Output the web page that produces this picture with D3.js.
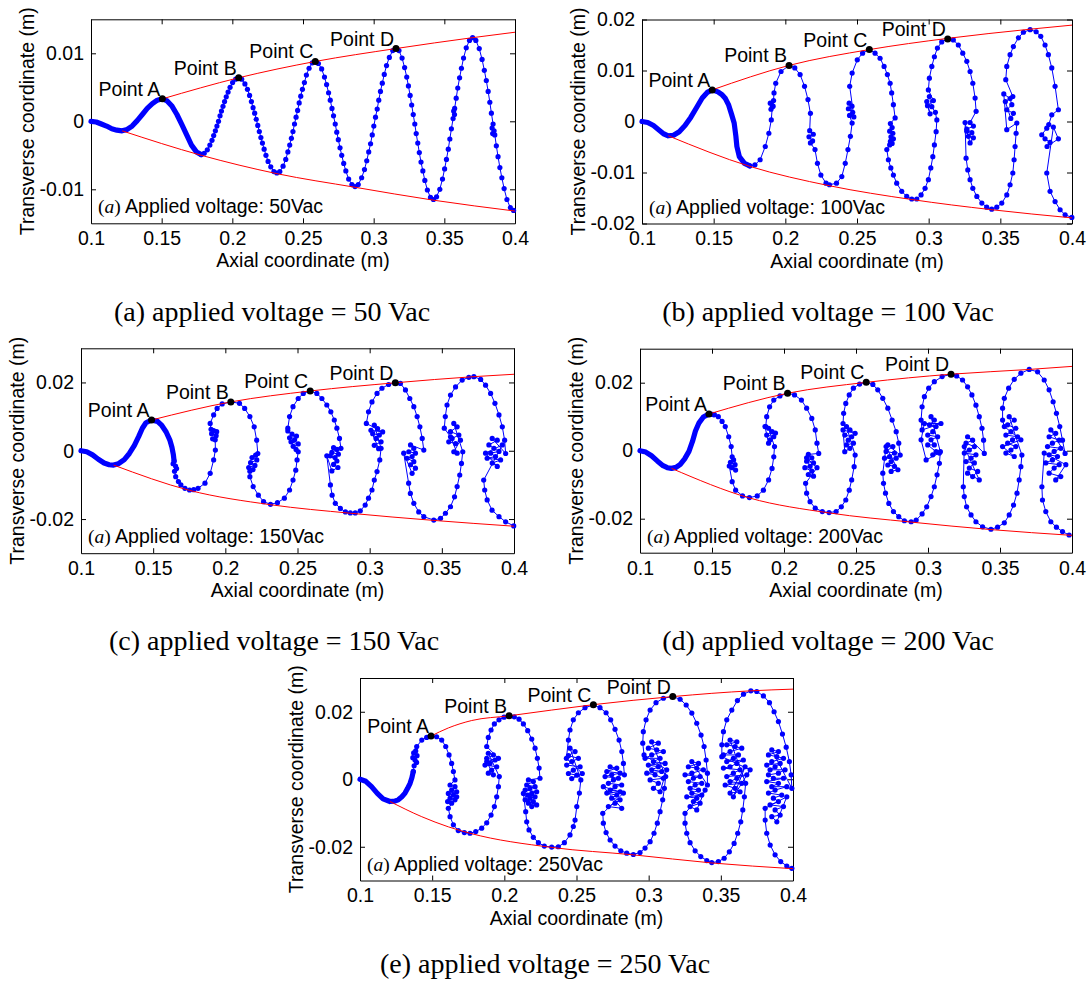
<!DOCTYPE html>
<html>
<head>
<meta charset="utf-8">
<script src="https://cdn.jsdelivr.net/npm/d3@7"></script>
<style>
  body { margin: 0; background: #fff; }
  svg text { font-family: "Liberation Sans", Arial, sans-serif; }
</style>
</head>
<body>
<svg id="fig" width="1089" height="983"></svg>
<script>
// axial coordinate ticks shared by every panel
const xTicks = [0.1, 0.15, 0.2, 0.25, 0.3, 0.35, 0.4]
const yTicksA = [-0.01, 0, 0.01]
const yTicksB = [-0.02, -0.01, 0, 0.01, 0.02]
const yTicksC = [-0.02, 0, 0.02]

const voltages = ["50", "100", "150", "200", "250"]
const letters = ["a", "b", "c", "d", "e"]
const pointNames = ["Point A", "Point B", "Point C", "Point D"]

// ---- (a) 50 Vac ----
const denseA = [[0.1000,0.0000],[0.1037,-0.0001],[0.1073,-0.0004],[0.1110,-0.0007],[0.1147,-0.0011],[0.1183,-0.0013],[0.1220,-0.0014],
  [0.1256,-0.0012],[0.1291,-0.0007],[0.1327,0.0001],[0.1363,0.0010],[0.1398,0.0019],[0.1434,0.0026],[0.1469,0.0031],[0.1505,0.0033],
  [0.1539,0.0030],[0.1574,0.0022],[0.1608,0.0010],[0.1643,-0.0005],[0.1677,-0.0020],[0.1711,-0.0035],[0.1746,-0.0045],[0.1780,-0.0049]]
const pathA = [[0.1780,-0.0049],
  [0.1801,-0.0047],[0.1823,-0.0042],[0.1841,-0.0035],[0.1856,-0.0028],[0.1868,-0.0021],[0.1880,-0.0014],[0.1891,-0.0007],[0.1902,0.0000],[0.1913,0.0008],[0.1923,0.0015],[0.1934,0.0022],[0.1945,0.0029],[0.1957,0.0036],[0.1970,0.0043],[0.1984,0.0050],[0.2002,0.0057],[0.2024,0.0062],[0.2045,0.0064],
  [0.2066,0.0062],[0.2089,0.0055],[0.2107,0.0047],[0.2122,0.0038],[0.2135,0.0029],[0.2147,0.0020],[0.2158,0.0012],[0.2169,0.0003],[0.2180,-0.0006],[0.2191,-0.0015],[0.2202,-0.0024],[0.2213,-0.0032],[0.2225,-0.0041],[0.2238,-0.0050],[0.2253,-0.0059],[0.2272,-0.0067],[0.2294,-0.0074],[0.2315,-0.0076],
  [0.2336,-0.0074],[0.2359,-0.0066],[0.2378,-0.0056],[0.2393,-0.0045],[0.2406,-0.0035],[0.2418,-0.0025],[0.2429,-0.0015],[0.2440,-0.0004],[0.2451,0.0006],[0.2462,0.0016],[0.2473,0.0027],[0.2484,0.0037],[0.2496,0.0047],[0.2510,0.0057],[0.2524,0.0068],[0.2543,0.0078],[0.2566,0.0086],[0.2587,0.0088],
  [0.2609,0.0085],[0.2632,0.0077],[0.2652,0.0065],[0.2667,0.0054],[0.2681,0.0042],[0.2693,0.0031],[0.2705,0.0019],[0.2716,0.0008],[0.2728,-0.0004],[0.2739,-0.0016],[0.2750,-0.0027],[0.2762,-0.0039],[0.2774,-0.0050],[0.2788,-0.0062],[0.2803,-0.0073],[0.2823,-0.0085],[0.2846,-0.0093],[0.2868,-0.0096],
  [0.2891,-0.0093],[0.2915,-0.0083],[0.2935,-0.0071],[0.2951,-0.0058],[0.2965,-0.0045],[0.2978,-0.0033],[0.2990,-0.0020],[0.3001,-0.0007],[0.3013,0.0006],[0.3025,0.0018],[0.3036,0.0031],[0.3048,0.0044],[0.3061,0.0056],[0.3075,0.0069],[0.3091,0.0082],[0.3111,0.0094],[0.3135,0.0104],[0.3158,0.0107],
  [0.3179,0.0104],[0.3201,0.0093],[0.3219,0.0079],[0.3234,0.0065],[0.3246,0.0052],[0.3258,0.0038],[0.3269,0.0024],[0.3280,0.0010],[0.3291,-0.0004],[0.3301,-0.0018],[0.3312,-0.0032],[0.3323,-0.0046],[0.3335,-0.0060],[0.3348,-0.0073],[0.3362,-0.0087],[0.3380,-0.0101],[0.3402,-0.0112],[0.3423,-0.0115],
  [0.3445,-0.0111],[0.3468,-0.0100],[0.3487,-0.0085],[0.3502,-0.0070],[0.3515,-0.0056],[0.3528,-0.0041],[0.3539,-0.0026],[0.3550,-0.0011],[0.3562,0.0004],[0.3572,0.0010],[0.3566,0.0015],[0.3573,0.0019],[0.3584,0.0034],[0.3595,0.0049],[0.3608,0.0064],[0.3621,0.0078],[0.3636,0.0093],[0.3655,0.0108],[0.3678,0.0119],[0.3700,0.0123],
  [0.3723,0.0119],[0.3747,0.0107],[0.3767,0.0091],[0.3783,0.0075],[0.3797,0.0060],[0.3810,0.0044],[0.3822,0.0028],[0.3833,0.0012],[0.3845,-0.0004],[0.3838,-0.0010],[0.3852,-0.0014],[0.3842,-0.0018],[0.3857,-0.0020],[0.3868,-0.0036],[0.3880,-0.0052],[0.3893,-0.0068],[0.3907,-0.0083],[0.3923,-0.0099],[0.3943,-0.0115],[0.3967,-0.0127],[0.3990,-0.0131]]
const upperA = [[0.1505,0.0033],[0.2045,0.0064],[0.2587,0.0088],[0.3158,0.0107],[0.3700,0.0123],[0.4000,0.0131]]
const lowerA = [[0.1220,-0.0014],[0.1780,-0.0050],[0.2315,-0.0077],[0.2868,-0.0097],[0.3423,-0.0116],[0.4000,-0.0132]]
const marksA = [[0.1505,0.0033],[0.2045,0.0064],[0.2587,0.0088],[0.3158,0.0107]]

// ---- (b) 100 Vac ----
const denseB = [[0.1000,0.0000],[0.1040,-0.0002],[0.1080,-0.0008],[0.1120,-0.0017],[0.1150,-0.0024],[0.1183,-0.0028],[0.1220,-0.0027],[0.1260,-0.0020],[0.1300,-0.0008],[0.1340,0.0008],[0.1380,0.0027],[0.1420,0.0046],[0.1455,0.0057],[0.1490,0.0062],
  [0.1530,0.0058],[0.1560,0.0052],[0.1582,0.0045],[0.1605,0.0032],[0.1625,0.0014],[0.1643,-0.0003],[0.1655,-0.0029],[0.1662,-0.0049],[0.1679,-0.0069],[0.1715,-0.0082],[0.1752,-0.0087]]
const pathB = [[0.1752,-0.0087],[0.1788,-0.0085],[0.1824,-0.0075],[0.1860,-0.0049],[0.1885,-0.0023],[0.1902,0.0003],[0.1909,0.0029],
  [0.1895,0.0036],[0.1918,0.0041],[0.1900,0.0024],[0.1915,0.0030],
  [0.1921,0.0056],[0.1933,0.0075],[0.1970,0.0098],[0.2026,0.0110],
  [0.2066,0.0105],[0.2103,0.0092],[0.2134,0.0069],[0.2158,0.0043],[0.2175,0.0016],
  [0.2170,-0.0018],[0.2195,-0.0025],[0.2165,-0.0030],[0.2190,-0.0038],[0.2175,-0.0042],
  [0.2207,-0.0055],[0.2224,-0.0082],[0.2248,-0.0105],[0.2284,-0.0121],[0.2308,-0.0124],
  [0.2357,-0.0121],[0.2394,-0.0108],[0.2418,-0.0082],[0.2437,-0.0055],[0.2454,-0.0029],[0.2466,-0.0003],
  [0.2448,0.0012],[0.2470,0.0018],[0.2440,0.0025],[0.2465,0.0030],[0.2445,0.0036],[0.2478,0.0009],
  [0.2449,0.0069],[0.2466,0.0095],[0.2502,0.0121],[0.2539,0.0134],[0.2586,0.0141],
  [0.2626,0.0134],[0.2661,0.0124],[0.2689,0.0108],[0.2712,0.0092],[0.2731,0.0075],[0.2742,0.0056],[0.2754,0.0033],[0.2766,0.0007],
  [0.2733,-0.0004],[0.2745,-0.0012],[0.2728,-0.0019],[0.2750,-0.0023],[0.2737,-0.0030],[0.2754,-0.0034],[0.2733,-0.0039],[0.2745,-0.0043],[0.2728,-0.0046],
  [0.2708,-0.0055],[0.2719,-0.0075],[0.2736,-0.0091],[0.2754,-0.0105],[0.2777,-0.0121],[0.2812,-0.0137],[0.2847,-0.0147],[0.2882,-0.0152],[0.2917,-0.0152],[0.2947,-0.0144],
  [0.2975,-0.0131],[0.2998,-0.0114],[0.3015,-0.0091],[0.3029,-0.0069],[0.3040,-0.0046],[0.3052,-0.0020],[0.3057,0.0003],
  [0.3047,0.0018],[0.3022,0.0029],[0.3005,0.0049],[0.2987,0.0039],[0.3010,0.0015],[0.2992,0.0031],[0.3033,0.0041],
  [0.2998,0.0062],[0.3005,0.0085],[0.3022,0.0108],[0.3040,0.0127],[0.3061,0.0144],[0.3091,0.0156],[0.3133,0.0162],
  [0.3172,0.0160],[0.3207,0.0150],[0.3238,0.0134],[0.3266,0.0118],[0.3289,0.0098],[0.3308,0.0075],[0.3324,0.0046],[0.3331,0.0020],
  [0.3289,-0.0002],[0.3312,-0.0009],[0.3266,-0.0015],[0.3301,-0.0022],[0.3277,-0.0029],[0.3312,-0.0032],[0.3289,-0.0042],[0.3266,-0.0019],[0.3254,-0.0002],
  [0.3261,-0.0072],[0.3273,-0.0095],[0.3289,-0.0114],[0.3308,-0.0131],[0.3336,-0.0147],[0.3371,-0.0160],[0.3405,-0.0168],[0.3440,-0.0172],[0.3475,-0.0168],
  [0.3510,-0.0160],[0.3545,-0.0144],[0.3568,-0.0124],[0.3587,-0.0101],[0.3596,-0.0075],[0.3603,-0.0049],[0.3610,-0.0023],[0.3615,-0.0003],
  [0.3545,-0.0016],[0.3524,0.0054],[0.3568,0.0045],[0.3580,0.0033],[0.3545,0.0023],[0.3591,0.0016],[0.3573,0.0006],[0.3535,0.0039],[0.3587,0.0049],
  [0.3538,0.0082],[0.3545,0.0108],[0.3568,0.0131],[0.3591,0.0147],[0.3626,0.0164],[0.3661,0.0175],[0.3708,0.0180],[0.3750,0.0176],
  [0.3782,0.0167],[0.3812,0.0150],[0.3835,0.0131],[0.3859,0.0105],[0.3882,0.0069],[0.3905,0.0023],
  [0.3859,0.0013],[0.3838,-0.0006],[0.3824,-0.0013],[0.3789,-0.0026],[0.3812,-0.0034],[0.3847,-0.0041],[0.3826,-0.0049],[0.3905,-0.0034],[0.3870,-0.0011],
  [0.3824,-0.0101],[0.3847,-0.0137],[0.3882,-0.0157],[0.3917,-0.0173],[0.3952,-0.0183],[0.3999,-0.0188]]
const upperB = [[0.1490,0.0062],[0.2026,0.0110],[0.2586,0.0141],[0.3133,0.0163],[0.3708,0.0181],[0.4000,0.0189]]
const lowerB = [[0.1183,-0.0028],[0.1752,-0.0088],[0.2308,-0.0126],[0.2882,-0.0153],[0.3440,-0.0173],[0.4000,-0.0189]]
const marksB = [[0.1490,0.0062],[0.2026,0.0110],[0.2586,0.0141],[0.3133,0.0162]]

// ---- (c) 150 Vac ----
const denseC = [[0.1000,0.0000],[0.1040,-0.0003],[0.1080,-0.0012],[0.1120,-0.0025],[0.1160,-0.0036],[0.1195,-0.0041],[0.1226,-0.0042],[0.1260,-0.0038],[0.1300,-0.0026],[0.1335,-0.0008],[0.1370,0.0016],[0.1400,0.0042],[0.1425,0.0066],[0.1450,0.0082],[0.1489,0.0090],
  [0.1530,0.0086],[0.1560,0.0074],[0.1590,0.0055],[0.1615,0.0032],[0.1630,0.0010],[0.1640,-0.0012],[0.1645,-0.0030]]
const pathC = [[0.1645,-0.0030],[0.1655,-0.0045],[0.1638,-0.0038],[0.1662,-0.0052],[0.1648,-0.0060],[0.1656,-0.0076],[0.1675,-0.0090],[0.1692,-0.0100],[0.1720,-0.0110],[0.1752,-0.0115],
  [0.1781,-0.0114],[0.1811,-0.0110],[0.1859,-0.0095],[0.1895,-0.0066],[0.1919,-0.0027],[0.1931,0.0002],
  [0.1930,0.0032],[0.1912,0.0035],[0.1936,0.0044],[0.1905,0.0050],[0.1940,0.0056],[0.1919,0.0059],[0.1901,0.0063],
  [0.1895,0.0080],[0.1919,0.0105],[0.1943,0.0124],[0.1978,0.0137],[0.2038,0.0143],
  [0.2098,0.0139],[0.2134,0.0124],[0.2170,0.0100],[0.2200,0.0070],[0.2217,0.0031],[0.2225,-0.0008],
  [0.2210,-0.0013],[0.2185,-0.0020],[0.2218,-0.0027],[0.2175,-0.0035],[0.2205,-0.0043],[0.2162,-0.0049],[0.2192,-0.0055],[0.2170,-0.0060],
  [0.2170,-0.0076],[0.2193,-0.0105],[0.2229,-0.0130],[0.2265,-0.0149],[0.2313,-0.0157],[0.2361,-0.0152],
  [0.2409,-0.0139],[0.2445,-0.0115],[0.2469,-0.0086],[0.2488,-0.0057],[0.2497,-0.0027],[0.2505,-0.0003],
  [0.2490,0.0004],[0.2470,0.0013],[0.2505,0.0020],[0.2455,0.0026],[0.2480,0.0032],[0.2445,0.0038],[0.2493,0.0043],[0.2462,0.0049],[0.2433,0.0058],
  [0.2433,0.0066],[0.2445,0.0100],[0.2469,0.0129],[0.2505,0.0153],[0.2540,0.0168],[0.2588,0.0175],
  [0.2634,0.0168],[0.2669,0.0153],[0.2703,0.0134],[0.2731,0.0114],[0.2755,0.0090],[0.2773,0.0066],[0.2791,0.0036],[0.2801,0.0007],
  [0.2750,0.0009],[0.2773,0.0004],[0.2738,-0.0005],[0.2783,-0.0010],[0.2760,-0.0020],[0.2727,-0.0015],[0.2773,-0.0030],[0.2750,-0.0040],[0.2780,-0.0049],[0.2738,-0.0059],[0.2703,-0.0015],
  [0.2728,-0.0100],[0.2740,-0.0130],[0.2762,-0.0154],[0.2797,-0.0169],[0.2832,-0.0179],[0.2866,-0.0182],[0.2900,-0.0182],[0.2935,-0.0176],
  [0.2969,-0.0159],[0.2992,-0.0139],[0.3016,-0.0115],[0.3032,-0.0086],[0.3051,-0.0061],[0.3070,-0.0027],[0.3079,0.0007],
  [0.3032,0.0075],[0.3055,0.0065],[0.3021,0.0050],[0.3067,0.0046],[0.3044,0.0036],[0.3079,0.0026],[0.3032,0.0016],[0.3062,0.0006],[0.3009,0.0060],[0.3090,0.0055],
  [0.2977,0.0080],[0.2992,0.0114],[0.3016,0.0143],[0.3051,0.0168],[0.3085,0.0183],[0.3131,0.0194],[0.3178,0.0199],
  [0.3213,0.0197],[0.3248,0.0178],[0.3278,0.0153],[0.3306,0.0129],[0.3329,0.0100],[0.3348,0.0070],[0.3364,0.0036],[0.3375,0.0002],
  [0.3283,0.0017],[0.3306,0.0007],[0.3271,-0.0003],[0.3317,-0.0007],[0.3294,-0.0017],[0.3259,-0.0022],[0.3306,-0.0032],[0.3283,-0.0041],[0.3317,-0.0051],[0.3294,-0.0066],[0.3236,-0.0007],
  [0.3270,-0.0095],[0.3282,-0.0125],[0.3306,-0.0154],[0.3340,-0.0179],[0.3375,-0.0193],[0.3444,-0.0203],[0.3491,-0.0198],
  [0.3525,-0.0183],[0.3560,-0.0164],[0.3588,-0.0135],[0.3606,-0.0105],[0.3624,-0.0071],[0.3636,-0.0037],[0.3645,-0.0003],
  [0.3583,0.0080],[0.3606,0.0070],[0.3560,0.0056],[0.3618,0.0046],[0.3571,0.0036],[0.3548,0.0026],[0.3595,0.0021],[0.3629,0.0031],[0.3583,-0.0003],[0.3606,-0.0007],[0.3560,0.0041],
  [0.3517,0.0066],[0.3524,0.0100],[0.3536,0.0134],[0.3560,0.0163],[0.3595,0.0187],[0.3641,0.0207],[0.3687,0.0215],[0.3722,0.0217],[0.3769,0.0209],
  [0.3803,0.0192],[0.3838,0.0168],[0.3868,0.0139],[0.3896,0.0105],[0.3919,0.0070],[0.3935,0.0031],[0.3942,-0.0008],
  [0.3849,0.0036],[0.3884,0.0031],[0.3826,0.0017],[0.3861,0.0007],[0.3896,-0.0002],[0.3838,-0.0007],[0.3872,-0.0017],[0.3814,-0.0022],[0.3907,-0.0027],[0.3849,-0.0036],[0.3884,-0.0046],[0.3803,-0.0007],[0.3919,0.0017],
  [0.3790,-0.0086],[0.3797,-0.0115],[0.3814,-0.0144],[0.3848,-0.0174],[0.3896,-0.0193],[0.3942,-0.0208],[0.3998,-0.0220]]
const upperC = [[0.1489,0.0090],[0.2038,0.0143],[0.2588,0.0175],[0.3178,0.0199],[0.3722,0.0217],[0.4000,0.0224]]
const lowerC = [[0.1226,-0.0042],[0.1752,-0.0116],[0.2313,-0.0158],[0.2866,-0.0183],[0.3444,-0.0204],[0.4000,-0.0221]]
const marksC = [[0.1489,0.0090],[0.2038,0.0143],[0.2588,0.0175],[0.3178,0.0199]]

// ---- (d) 200 Vac ----
const denseD = [[0.1000,0.0000],[0.1040,-0.0004],[0.1080,-0.0015],[0.1120,-0.0030],[0.1160,-0.0044],[0.1190,-0.0050],[0.1219,-0.0052],[0.1250,-0.0049],[0.1280,-0.0040],[0.1310,-0.0024],[0.1340,-0.0002],[0.1365,0.0028],[0.1385,0.0058],[0.1410,0.0082],[0.1440,0.0099],[0.1479,0.0108],[0.1515,0.0106]]
const pathD = [[0.1515,0.0106],[0.1544,0.0100],[0.1570,0.0086],[0.1592,0.0071],[0.1616,0.0041],[0.1633,0.0012],[0.1640,-0.0018],
  [0.1650,-0.0027],[0.1628,-0.0034],[0.1660,-0.0041],[0.1640,-0.0050],[0.1664,-0.0057],[0.1620,-0.0045],
  [0.1640,-0.0091],[0.1664,-0.0116],[0.1712,-0.0133],[0.1760,-0.0138],
  [0.1814,-0.0133],[0.1857,-0.0116],[0.1893,-0.0086],[0.1917,-0.0052],[0.1929,-0.0018],[0.1934,0.0012],
  [0.1893,0.0066],[0.1917,0.0056],[0.1880,0.0046],[0.1929,0.0041],[0.1905,0.0032],[0.1941,0.0052],[0.1893,0.0022],[0.1868,0.0071],
  [0.1873,0.0071],[0.1880,0.0100],[0.1900,0.0129],[0.1929,0.0149],[0.1972,0.0161],[0.2025,0.0169],
  [0.2073,0.0164],[0.2121,0.0149],[0.2157,0.0125],[0.2193,0.0095],[0.2217,0.0061],[0.2229,0.0022],[0.2241,-0.0008],
  [0.2169,-0.0011],[0.2193,-0.0021],[0.2157,-0.0031],[0.2205,-0.0036],[0.2181,-0.0046],[0.2145,-0.0050],[0.2193,-0.0060],[0.2169,-0.0070],[0.2205,-0.0075],[0.2157,-0.0021],[0.2229,-0.0050],
  [0.2150,-0.0096],[0.2157,-0.0125],[0.2181,-0.0150],[0.2217,-0.0169],[0.2266,-0.0179],[0.2313,-0.0182],[0.2362,-0.0179],
  [0.2398,-0.0165],[0.2429,-0.0145],[0.2453,-0.0116],[0.2470,-0.0086],[0.2487,-0.0047],[0.2494,-0.0013],
  [0.2434,0.0071],[0.2458,0.0061],[0.2422,0.0046],[0.2470,0.0041],[0.2446,0.0031],[0.2434,0.0017],[0.2482,0.0022],[0.2458,0.0007],[0.2422,-0.0003],[0.2410,0.0061],[0.2494,0.0051],
  [0.2410,0.0080],[0.2414,0.0110],[0.2429,0.0139],[0.2453,0.0164],[0.2482,0.0184],[0.2525,0.0196],[0.2571,0.0201],
  [0.2617,0.0195],[0.2651,0.0179],[0.2686,0.0154],[0.2721,0.0125],[0.2751,0.0090],[0.2779,0.0056],[0.2797,0.0022],[0.2807,-0.0013],
  [0.2721,0.0017],[0.2756,0.0012],[0.2709,-0.0002],[0.2767,-0.0007],[0.2733,-0.0017],[0.2698,-0.0022],[0.2779,-0.0022],[0.2744,-0.0032],[0.2721,-0.0042],[0.2767,-0.0046],[0.2744,-0.0061],[0.2791,-0.0056],[0.2709,0.0012],
  [0.2686,-0.0066],[0.2691,-0.0096],[0.2705,-0.0125],[0.2728,-0.0155],[0.2760,-0.0179],[0.2797,-0.0194],[0.2836,-0.0206],[0.2883,-0.0209],[0.2918,-0.0204],[0.2959,-0.0186],
  [0.2991,-0.0165],[0.3021,-0.0135],[0.3044,-0.0106],[0.3063,-0.0071],[0.3079,-0.0037],[0.3086,-0.0003],
  [0.3021,0.0100],[0.3044,0.0090],[0.3010,0.0076],[0.3056,0.0071],[0.3033,0.0056],[0.2998,0.0046],[0.3067,0.0041],[0.3021,0.0032],[0.3044,0.0017],[0.2998,0.0017],[0.3056,-0.0003],[0.3033,-0.0012],[0.3079,-0.0007],[0.2987,-0.0027],[0.2952,0.0032],[0.2975,0.0080],[0.3090,0.0080],
  [0.2959,0.0061],[0.2952,0.0090],[0.2959,0.0129],[0.2975,0.0159],[0.3005,0.0184],[0.3044,0.0203],[0.3098,0.0218],[0.3160,0.0225],
  [0.3199,0.0220],[0.3240,0.0208],[0.3275,0.0188],[0.3305,0.0164],[0.3333,0.0134],[0.3356,0.0100],[0.3375,0.0066],[0.3386,0.0031],[0.3391,-0.0008],
  [0.3275,0.0041],[0.3310,0.0031],[0.3264,0.0022],[0.3322,0.0012],[0.3287,0.0002],[0.3252,-0.0007],[0.3333,-0.0012],[0.3299,-0.0022],[0.3264,-0.0032],[0.3322,-0.0036],[0.3287,-0.0051],[0.3345,-0.0061],[0.3310,-0.0076],[0.3275,-0.0066],[0.3356,-0.0086],[0.3252,0.0012],
  [0.3245,-0.0106],[0.3252,-0.0135],[0.3268,-0.0165],[0.3299,-0.0189],[0.3333,-0.0209],[0.3379,-0.0224],[0.3437,-0.0231],[0.3483,-0.0225],
  [0.3530,-0.0212],[0.3564,-0.0189],[0.3594,-0.0160],[0.3618,-0.0125],[0.3633,-0.0086],[0.3645,-0.0047],[0.3652,-0.0013],
  [0.3564,0.0100],[0.3599,0.0090],[0.3553,0.0076],[0.3610,0.0066],[0.3576,0.0056],[0.3541,0.0046],[0.3622,0.0041],[0.3587,0.0032],[0.3553,0.0022],[0.3610,0.0012],[0.3576,0.0002],[0.3541,-0.0007],[0.3599,-0.0017],[0.3518,0.0012],[0.3645,0.0032],[0.3530,0.0071],
  [0.3518,0.0090],[0.3518,0.0125],[0.3530,0.0154],[0.3560,0.0184],[0.3599,0.0210],[0.3645,0.0228],[0.3703,0.0239],[0.3761,0.0232],
  [0.3807,0.0208],[0.3841,0.0179],[0.3869,0.0144],[0.3892,0.0110],[0.3915,0.0071],[0.3934,0.0031],[0.3952,-0.0008],
  [0.3853,0.0061],[0.3887,0.0051],[0.3841,0.0041],[0.3911,0.0031],[0.3864,0.0022],[0.3830,0.0012],[0.3922,0.0007],[0.3876,-0.0002],[0.3841,-0.0012],[0.3899,-0.0017],[0.3864,-0.0027],[0.3818,-0.0036],[0.3911,-0.0041],[0.3876,-0.0051],[0.3841,-0.0066],[0.3922,-0.0076],[0.3887,-0.0086],[0.3957,-0.0041],[0.3807,-0.0007],
  [0.3791,-0.0106],[0.3795,-0.0145],[0.3818,-0.0179],[0.3853,-0.0209],[0.3892,-0.0225],[0.3934,-0.0238],[0.3980,-0.0248]]
const upperD = [[0.1479,0.0108],[0.2025,0.0169],[0.2571,0.0201],[0.3160,0.0225],[0.3703,0.0239],[0.4000,0.0248]]
const lowerD = [[0.1219,-0.0052],[0.1760,-0.0139],[0.2313,-0.0183],[0.2883,-0.0210],[0.3437,-0.0232],[0.4000,-0.0249]]
const marksD = [[0.1479,0.0108],[0.2025,0.0169],[0.2571,0.0201],[0.3160,0.0225]]

// ---- (e) 250 Vac ----
const denseE = [[0.1000,0.0000],[0.1040,-0.0006],[0.1080,-0.0022],[0.1120,-0.0042],[0.1160,-0.0058],[0.1208,-0.0066],[0.1240,-0.0065],[0.1265,-0.0061],[0.1290,-0.0052],[0.1312,-0.0041],[0.1330,-0.0027],[0.1347,-0.0012],[0.1360,0.0005],[0.1369,0.0023]]
const pathE = [[0.1369,0.0023],[0.1381,0.0057],
  [0.1375,0.0040],[0.1392,0.0050],[0.1366,0.0064],[0.1395,0.0070],[0.1372,0.0078],[0.1386,0.0084],
  [0.1393,0.0097],[0.1428,0.0116],[0.1462,0.0124],[0.1492,0.0128],
  [0.1531,0.0126],[0.1566,0.0116],[0.1594,0.0097],[0.1617,0.0072],[0.1635,0.0047],[0.1647,0.0023],[0.1658,-0.0002],
  [0.1624,-0.0017],[0.1658,-0.0022],[0.1635,-0.0032],[0.1670,-0.0037],[0.1612,-0.0042],[0.1647,-0.0047],[0.1624,-0.0056],[0.1658,-0.0061],[0.1635,-0.0071],[0.1607,-0.0066],[0.1670,-0.0052],
  [0.1612,-0.0086],[0.1624,-0.0111],[0.1647,-0.0135],[0.1681,-0.0152],[0.1723,-0.0158],[0.1762,-0.0160],[0.1802,-0.0155],
  [0.1843,-0.0145],[0.1878,-0.0129],[0.1908,-0.0106],[0.1931,-0.0081],[0.1947,-0.0052],[0.1959,-0.0022],[0.1965,0.0008],
  [0.1889,0.0077],[0.1924,0.0072],[0.1878,0.0062],[0.1936,0.0057],[0.1901,0.0047],[0.1866,0.0042],[0.1947,0.0037],[0.1912,0.0027],[0.1889,0.0018],[0.1924,0.0013],[0.1878,0.0052],[0.1959,0.0062],
  [0.1878,0.0097],[0.1889,0.0124],[0.1908,0.0146],[0.1931,0.0164],[0.1963,0.0176],[0.1998,0.0184],[0.2033,0.0188],
  [0.2069,0.0185],[0.2102,0.0178],[0.2132,0.0164],[0.2162,0.0144],[0.2190,0.0119],[0.2213,0.0092],[0.2229,0.0062],[0.2241,0.0033],[0.2247,0.0003],
  [0.2167,-0.0002],[0.2201,-0.0007],[0.2155,-0.0017],[0.2213,-0.0022],[0.2178,-0.0027],[0.2144,-0.0032],[0.2224,-0.0037],[0.2190,-0.0042],[0.2162,-0.0047],[0.2213,-0.0052],[0.2178,-0.0056],[0.2144,-0.0061],[0.2201,-0.0066],[0.2167,-0.0071],[0.2224,-0.0076],[0.2190,-0.0081],[0.2132,-0.0042],
  [0.2148,-0.0096],[0.2155,-0.0126],[0.2171,-0.0150],[0.2201,-0.0172],[0.2236,-0.0188],[0.2277,-0.0198],[0.2328,-0.0201],[0.2374,-0.0200],[0.2416,-0.0188],[0.2455,-0.0165],
  [0.2478,-0.0140],[0.2490,-0.0121],[0.2502,-0.0081],[0.2520,-0.0041],[0.2530,-0.0002],
  [0.2455,0.0092],[0.2490,0.0082],[0.2444,0.0070],[0.2513,0.0062],[0.2467,0.0052],[0.2432,0.0042],[0.2525,0.0037],[0.2478,0.0027],[0.2444,0.0017],[0.2502,0.0012],[0.2467,0.0002],[0.2540,0.0017],[0.2430,0.0062],
  [0.2444,0.0116],[0.2455,0.0146],[0.2478,0.0176],[0.2513,0.0197],[0.2559,0.0212],[0.2617,0.0220],
  [0.2663,0.0212],[0.2705,0.0197],[0.2737,0.0176],[0.2767,0.0148],[0.2795,0.0116],[0.2814,0.0082],[0.2825,0.0047],[0.2832,0.0013],
  [0.2733,0.0037],[0.2779,0.0033],[0.2710,0.0023],[0.2802,0.0018],[0.2744,0.0013],[0.2698,0.0008],[0.2790,0.0003],[0.2756,-0.0002],[0.2721,-0.0012],[0.2813,-0.0017],[0.2767,-0.0022],[0.2733,-0.0032],[0.2802,-0.0037],[0.2710,-0.0041],[0.2779,-0.0047],[0.2744,-0.0056],[0.2802,-0.0061],[0.2767,-0.0071],[0.2721,-0.0081],[0.2813,-0.0086],[0.2686,-0.0022],[0.2825,-0.0041],
  [0.2682,-0.0101],[0.2686,-0.0130],[0.2705,-0.0158],[0.2733,-0.0180],[0.2767,-0.0198],[0.2807,-0.0212],[0.2848,-0.0219],[0.2894,-0.0223],[0.2940,-0.0217],[0.2975,-0.0204],
  [0.3010,-0.0185],[0.3037,-0.0160],[0.3060,-0.0130],[0.3079,-0.0096],[0.3097,-0.0061],[0.3109,-0.0027],[0.3118,0.0008],
  [0.3021,0.0111],[0.3067,0.0107],[0.2998,0.0092],[0.3056,0.0087],[0.3102,0.0082],[0.3021,0.0072],[0.2975,0.0062],[0.3079,0.0062],[0.3033,0.0052],[0.3114,0.0047],[0.2998,0.0042],[0.3067,0.0037],[0.3021,0.0028],[0.3090,0.0023],[0.2987,0.0018],[0.3044,0.0013],[0.3102,0.0003],[0.3010,-0.0002],[0.3067,-0.0012],[0.3033,-0.0027],[0.3079,-0.0037],[0.3125,0.0028],
  [0.2968,0.0072],[0.2959,0.0107],[0.2963,0.0141],[0.2982,0.0176],[0.3010,0.0205],[0.3051,0.0227],[0.3102,0.0240],[0.3167,0.0245],
  [0.3218,0.0237],[0.3260,0.0220],[0.3299,0.0196],[0.3333,0.0166],[0.3363,0.0131],[0.3384,0.0097],[0.3398,0.0057],[0.3407,0.0018],[0.3407,-0.0017],
  [0.3299,0.0052],[0.3345,0.0047],[0.3275,0.0037],[0.3333,0.0033],[0.3379,0.0028],[0.3299,0.0018],[0.3252,0.0013],[0.3356,0.0008],[0.3310,0.0003],[0.3275,-0.0007],[0.3368,-0.0012],[0.3322,-0.0017],[0.3287,-0.0027],[0.3345,-0.0032],[0.3299,-0.0041],[0.3368,-0.0047],[0.3264,-0.0052],[0.3333,-0.0056],[0.3310,-0.0066],[0.3356,-0.0071],[0.3287,-0.0081],[0.3333,-0.0091],[0.3391,-0.0032],
  [0.3252,-0.0101],[0.3252,-0.0130],[0.3264,-0.0160],[0.3287,-0.0188],[0.3322,-0.0212],[0.3361,-0.0229],[0.3403,-0.0241],[0.3437,-0.0247],[0.3483,-0.0244],[0.3523,-0.0234],
  [0.3559,-0.0215],[0.3592,-0.0190],[0.3617,-0.0160],[0.3638,-0.0126],[0.3652,-0.0091],[0.3663,-0.0052],[0.3672,-0.0012],
  [0.3564,0.0116],[0.3611,0.0111],[0.3541,0.0102],[0.3599,0.0097],[0.3645,0.0092],[0.3564,0.0082],[0.3518,0.0072],[0.3622,0.0072],[0.3587,0.0062],[0.3541,0.0052],[0.3656,0.0057],[0.3611,0.0047],[0.3564,0.0037],[0.3518,0.0033],[0.3633,0.0028],[0.3587,0.0018],[0.3541,0.0008],[0.3680,0.0013],[0.3611,0.0003],[0.3564,-0.0007],[0.3645,-0.0012],[0.3530,-0.0017],[0.3599,-0.0027],[0.3633,-0.0037],[0.3564,-0.0041],[0.3668,0.0037],[0.3587,-0.0052],[0.3703,0.0028],
  [0.3507,0.0067],[0.3507,0.0102],[0.3518,0.0141],[0.3541,0.0176],[0.3576,0.0205],[0.3615,0.0233],[0.3657,0.0252],[0.3708,0.0262],[0.3749,0.0260],
  [0.3795,0.0247],[0.3837,0.0227],[0.3869,0.0200],[0.3899,0.0171],[0.3927,0.0134],[0.3953,0.0095],[0.3975,0.0052],[0.3987,0.0013],[0.3992,-0.0027],
  [0.3853,0.0087],[0.3899,0.0082],[0.3830,0.0072],[0.3888,0.0067],[0.3934,0.0062],[0.3853,0.0052],[0.3818,0.0042],[0.3911,0.0047],[0.3876,0.0037],[0.3841,0.0028],[0.3945,0.0028],[0.3899,0.0018],[0.3830,0.0013],[0.3864,0.0003],[0.3934,0.0003],[0.3818,-0.0007],[0.3899,-0.0012],[0.3853,-0.0022],[0.3957,-0.0022],[0.3876,-0.0032],[0.3830,-0.0041],[0.3922,-0.0047],[0.3864,-0.0056],[0.3899,-0.0066],[0.3841,-0.0076],[0.3934,-0.0081],[0.3876,-0.0091],[0.3911,-0.0106],[0.3853,-0.0111],[0.3888,-0.0126],[0.3957,-0.0052],
  [0.3807,-0.0086],[0.3807,-0.0121],[0.3818,-0.0160],[0.3842,-0.0195],[0.3876,-0.0224],[0.3915,-0.0244],[0.3957,-0.0257],[0.3992,-0.0264]]
const upperE = [[0.1492,0.0128],[0.1612,0.0152],[0.1774,0.0174],[0.2033,0.0188],[0.2617,0.0221],[0.3167,0.0245],[0.3708,0.0262],[0.4000,0.0267]]
const lowerE = [[0.1208,-0.0066],[0.1428,-0.0111],[0.1612,-0.0141],[0.1762,-0.0160],[0.2328,-0.0202],[0.2894,-0.0224],[0.3437,-0.0248],[0.4000,-0.0265]]
const marksE = [[0.1492,0.0128],[0.2033,0.0188],[0.2617,0.0221],[0.3167,0.0245]]

// panel boxes in page pixels: left, top, right, bottom
const panels = [
  { box: [91, 19.3, 515, 223.3], ymax: 0.015, yTicks: yTicksA, dense: denseA, path: pathA, upper: upperA, lower: lowerA, marks: marksA, capX: 272, capY: 321 },
  { box: [642, 19.5, 1072, 223.5], ymax: 0.02, yTicks: yTicksB, dense: denseB, path: pathB, upper: upperB, lower: lowerB, marks: marksB, capX: 828, capY: 321 },
  { box: [81, 348.3, 514, 553.2], ymax: 0.03, yTicks: yTicksC, dense: denseC, path: pathC, upper: upperC, lower: lowerC, marks: marksC, capX: 274, capY: 650 },
  { box: [640, 348.7, 1072, 552.7], ymax: 0.03, yTicks: yTicksC, dense: denseD, path: pathD, upper: upperD, lower: lowerD, marks: marksD, capX: 828, capY: 650 },
  { box: [360, 678, 793, 880.5], ymax: 0.03, yTicks: yTicksC, dense: denseE, path: pathE, upper: upperE, lower: lowerE, marks: marksE, capX: 545, capY: 973 }
]

const svg = d3.select("#fig")
const fs = 19.5
const blue = "#0000ff"

panels.forEach(function (p, i) {
  const [left, top, right, bottom] = p.box
  const x = d3.scaleLinear().domain([0.1, 0.4]).range([left, right])
  const y = d3.scaleLinear().domain([-p.ymax, p.ymax]).range([bottom, top])
  const g = svg.append("g")

  // box + inward ticks on all four sides
  const styleAxis = sel => sel.attr("font-family", '"Liberation Sans", Arial, sans-serif')
    .attr("font-size", fs)
    .call(s => s.selectAll("text").attr("fill", "#000"))
  g.append("g").attr("transform", `translate(0,${bottom})`)
    .call(d3.axisBottom(x).tickValues(xTicks).tickFormat(d => String(d)).tickSize(-5).tickSizeOuter(0).tickPadding(8))
    .call(styleAxis)
  g.append("g").attr("transform", `translate(0,${top})`)
    .call(d3.axisTop(x).tickValues(xTicks).tickFormat("").tickSize(-5).tickSizeOuter(0))
  g.append("g").attr("transform", `translate(${left},0)`)
    .call(d3.axisLeft(y).tickValues(p.yTicks).tickFormat(d => String(d)).tickSize(-5).tickSizeOuter(0).tickPadding(7))
    .call(styleAxis)
  g.append("g").attr("transform", `translate(${right},0)`)
    .call(d3.axisRight(y).tickValues(p.yTicks).tickFormat("").tickSize(-5).tickSizeOuter(0))

  const line = d3.line().x(d => x(d[0])).y(d => y(d[1]))
  const smooth = d3.line().x(d => x(d[0])).y(d => y(d[1])).curve(d3.curveMonotoneX)

  // dense early part: dots overlap into a thick band
  g.append("path").attr("d", line(p.dense))
    .attr("fill", "none").attr("stroke", blue).attr("stroke-width", 5.2)
    .attr("stroke-linejoin", "round").attr("stroke-linecap", "round")

  g.append("path").attr("d", line(p.path))
    .attr("fill", "none").attr("stroke", blue).attr("stroke-width", 1)

  g.append("g").selectAll("circle")
    .data(p.path)
    .join("circle")
    .attr("cx", d => x(d[0]))
    .attr("cy", d => y(d[1]))
    .attr("r", 2.6)
    .attr("fill", blue)

  // envelopes
  g.append("path").attr("d", smooth(p.upper))
    .attr("fill", "none").attr("stroke", "#ff0000").attr("stroke-width", 1)
  g.append("path").attr("d", smooth(p.lower))
    .attr("fill", "none").attr("stroke", "#ff0000").attr("stroke-width", 1)

  // points A-D
  g.append("g").selectAll("circle")
    .data(p.marks)
    .join("circle")
    .attr("cx", d => x(d[0]))
    .attr("cy", d => y(d[1]))
    .attr("r", 3.5)
    .attr("fill", "#000")
  g.append("g").selectAll("text")
    .data(p.marks)
    .join("text")
    .attr("x", d => x(d[0]) - 2)
    .attr("y", d => y(d[1]) - 3)
    .attr("text-anchor", "end")
    .attr("font-size", fs)
    .text((d, k) => pointNames[k])

  // axis titles
  g.append("text")
    .attr("x", (left + right) / 2)
    .attr("y", bottom + 44)
    .attr("text-anchor", "middle")
    .attr("font-size", fs)
    .text("Axial coordinate (m)")
  g.append("text")
    .attr("transform", `translate(${left - 64},${(top + bottom) / 2}) rotate(-90)`)
    .attr("text-anchor", "middle")
    .attr("dy", "0.35em")
    .attr("font-size", fs)
    .text("Transverse coordinate (m)")

  // in-plot annotation
  const note = g.append("text")
    .attr("x", left + 7)
    .attr("y", bottom - 10)
    .attr("font-size", fs)
  note.append("tspan").attr("font-family", '"Liberation Serif", serif').text("(")
  note.append("tspan").attr("font-family", '"Liberation Serif", serif').attr("font-style", "italic").text("a")
  note.append("tspan").attr("font-family", '"Liberation Serif", serif').text(")")
  note.append("tspan").text(" Applied voltage: " + voltages[i] + "Vac")

  // caption under the subfigure
  svg.append("text")
    .attr("x", p.capX)
    .attr("y", p.capY)
    .attr("text-anchor", "middle")
    .attr("font-size", 28)
    .style("font-family", '"Liberation Serif", "Times New Roman", serif')
    .text("(" + letters[i] + ") applied voltage = " + voltages[i] + " Vac")
})
</script>
</body>
</html>
